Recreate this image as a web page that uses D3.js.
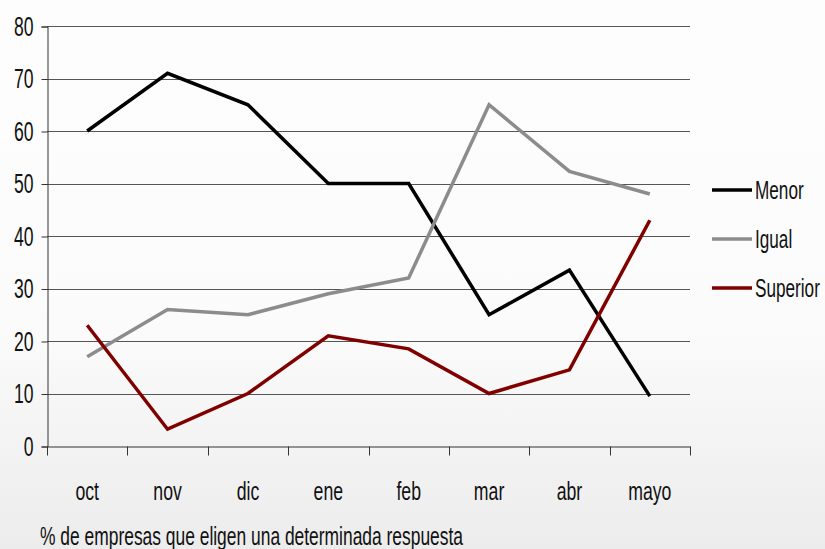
<!DOCTYPE html>
<html>
<head>
<meta charset="utf-8" />
<style>
    html, body { margin: 0; padding: 0; }
    text { font-family: "Liberation Sans", Arial, sans-serif; fill: #111; }
</style>
</head>
<body>
<svg width="825" height="549"></svg>
<script src="https://d3js.org/d3.v7.min.js"></script>
<script>
    var months = ["oct", "nov", "dic", "ene", "feb", "mar", "abr", "mayo"];
    var menor = [60, 71, 65, 50, 50, 25, 33.5, 9.5];
    var igual = [17, 26, 25, 29, 32, 65, 52.3, 48];
    var superior = [23, 3.2, 10, 21, 18.5, 10, 14.5, 43];
    var yTicks = [0, 10, 20, 30, 40, 50, 60, 70, 80];

    var series = [
        { name: "Menor", values: menor, color: "#000000" },
        { name: "Igual", values: igual, color: "#8c8c8c" },
        { name: "Superior", values: superior, color: "#800000" }
    ];

    var svg = d3.select("svg");

    // squeeze text horizontally to mimic the narrow font
    function condense(sel, f) {
        sel.each(function () {
            var w = this.getComputedTextLength();
            d3.select(this).attr("textLength", w * f).attr("lengthAdjust", "spacingAndGlyphs");
        });
    }

    var grad = svg.append("defs").append("linearGradient")
        .attr("id", "bg").attr("x1", 0).attr("y1", 0).attr("x2", 0).attr("y2", 1);
    grad.append("stop").attr("offset", "0%").attr("stop-color", "#fdfdfd");
    grad.append("stop").attr("offset", "60%").attr("stop-color", "#fbfbfb");
    grad.append("stop").attr("offset", "100%").attr("stop-color", "#ececec");
    svg.append("rect").attr("width", 825).attr("height", 549).attr("fill", "url(#bg)");

    var mLeft = 47, mRight = 690, mTop = 26, mBottom = 446;

    var x = d3.scaleBand().domain(months).range([mLeft, mRight]);
    var y = d3.scaleLinear().domain([0, 80]).range([mBottom, mTop]);

    // gridlines
    svg.append("g").selectAll("line")
        .data(yTicks.slice(1))
        .enter().append("line")
        .attr("x1", mLeft).attr("x2", mRight)
        .attr("y1", function (d) { return Math.round(y(d)) + 0.5; })
        .attr("y2", function (d) { return Math.round(y(d)) + 0.5; })
        .attr("stroke", "#555").attr("stroke-width", 1.2);

    // y axis
    var yAxis = svg.append("g")
        .attr("transform", "translate(" + (mLeft + 0.5) + ",0.5)")
        .call(d3.axisLeft(y).tickValues(yTicks).tickSize(6).tickPadding(8));
    yAxis.select(".domain").attr("stroke", "#333");
    yAxis.selectAll(".tick line").attr("stroke", "#333");
    yAxis.selectAll("text").style("font-size", "27px").attr("fill", "#111");
    condense(yAxis.selectAll("text"), 0.65);

    // x axis
    var xAxis = svg.append("g")
        .attr("transform", "translate(0," + (mBottom + 0.5) + ")")
        .call(d3.axisBottom(x).tickSize(0).tickPadding(0));
    xAxis.select(".domain").attr("stroke", "#333");
    xAxis.selectAll("text").attr("dy", null).attr("y", 53)
        .style("font-size", "26px").attr("fill", "#111");
    condense(xAxis.selectAll("text"), 0.68);
    xAxis.append("g").selectAll("line")
        .data(d3.range(months.length + 1))
        .enter().append("line")
        .attr("x1", function (i) { return Math.round(mLeft + i * x.step()) + 0.5; })
        .attr("x2", function (i) { return Math.round(mLeft + i * x.step()) + 0.5; })
        .attr("y1", 0).attr("y2", 9)
        .attr("stroke", "#333");

    var line = d3.line()
        .x(function (d, i) { return x(months[i]) + x.bandwidth() / 2; })
        .y(function (d) { return y(d); });

    svg.append("g").selectAll("path")
        .data(series)
        .enter().append("path")
        .attr("d", function (d) { return line(d.values); })
        .attr("fill", "none")
        .attr("stroke", function (d) { return d.color; })
        .attr("stroke-width", 3.5)
        .attr("stroke-linejoin", "miter");

    // legend
    var legend = svg.append("g").selectAll("g")
        .data(series)
        .enter().append("g")
        .attr("transform", function (d, i) { return "translate(712," + (190 + i * 49) + ")"; });
    legend.append("line")
        .attr("x1", 0).attr("x2", 40)
        .attr("stroke", function (d) { return d.color; })
        .attr("stroke-width", 3.5);
    legend.append("text")
        .attr("x", 43).attr("dy", "0.35em")
        .style("font-size", "26px")
        .text(function (d) { return d.name; });
    condense(legend.selectAll("text"), 0.66);

    svg.append("text")
        .attr("x", 40).attr("y", 545)
        .style("font-size", "25px")
        .attr("textLength", 423).attr("lengthAdjust", "spacingAndGlyphs")
        .text("% de empresas que eligen una determinada respuesta");
</script>
</body>
</html>
